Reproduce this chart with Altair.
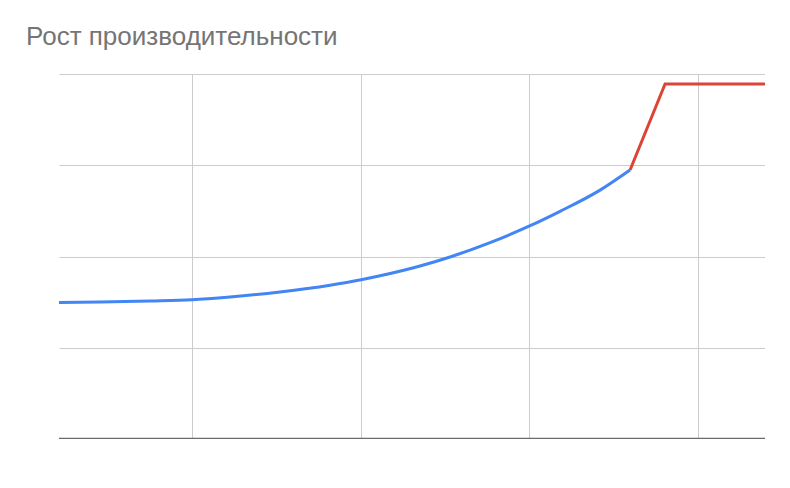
import altair as alt
import pandas as pd

# Blue series (growth curve)
blue_x = [0.2107, 0.4540, 0.7507, 1.0, 1.2255, 1.5223, 1.8190, 2.0030, 2.1157, 2.3531,
          2.5312, 2.7685, 3.0, 3.1840, 3.4214, 3.5994]
blue_y = [1.4959, 1.5014, 1.5123, 1.5255, 1.5562, 1.6110, 1.6849, 1.7447, 1.7885, 1.8959,
          1.9945, 2.1523, 2.3321, 2.4953, 2.7277, 2.9479]
# Red series (jump and plateau)
red_x = [3.5994, 3.8071, 4.4]
red_y = [2.9479, 3.8904, 3.8904]

title_text = "Рост производительности"

blue_df = pd.DataFrame({"x": blue_x, "y": blue_y})
red_df = pd.DataFrame({"x": red_x, "y": red_y})

xs = alt.Scale(domain=[0.2107, 4.4], nice=False, zero=False)
ys = alt.Scale(domain=[0, 4], nice=False)

x_axis = alt.Axis(values=[1, 2, 3, 4], grid=True, gridColor="#cccccc", gridWidth=1,
                  labels=False, ticks=False, title=None, domain=False)
y_axis = alt.Axis(values=[1, 2, 3, 4], grid=True, gridColor="#cccccc", gridWidth=1,
                  labels=False, ticks=False, title=None, domain=False)

blue = alt.Chart(blue_df).mark_line(color="#4285F4", strokeWidth=3, interpolate="monotone").encode(
    x=alt.X("x:Q", scale=xs, axis=x_axis),
    y=alt.Y("y:Q", scale=ys, axis=y_axis),
)
red = alt.Chart(red_df).mark_line(color="#DB4437", strokeWidth=3).encode(
    x=alt.X("x:Q", scale=xs, axis=x_axis),
    y=alt.Y("y:Q", scale=ys, axis=y_axis),
)
baseline = alt.Chart(pd.DataFrame({"b": [0]})).mark_rule(color="#6b6b6b", strokeWidth=2.6).encode(
    y=alt.Y("b:Q", scale=ys, axis=y_axis),
)
title = alt.Chart(pd.DataFrame({"t": [title_text]})).mark_text(
    align="left", baseline="alphabetic", fontSize=26, font="Liberation Sans", color="#757575"
).encode(x=alt.value(-33), y=alt.value(-29), text="t:N")

chart = alt.layer(blue, red, baseline, title).properties(
    width=706, height=365,
    padding={"left": 51, "top": 66, "right": 0, "bottom": 0},
    autosize=alt.AutoSizeParams(type="none"),
).configure_view(stroke=None)

chart.save("out.html", embed_options={"renderer": "svg", "actions": False})
